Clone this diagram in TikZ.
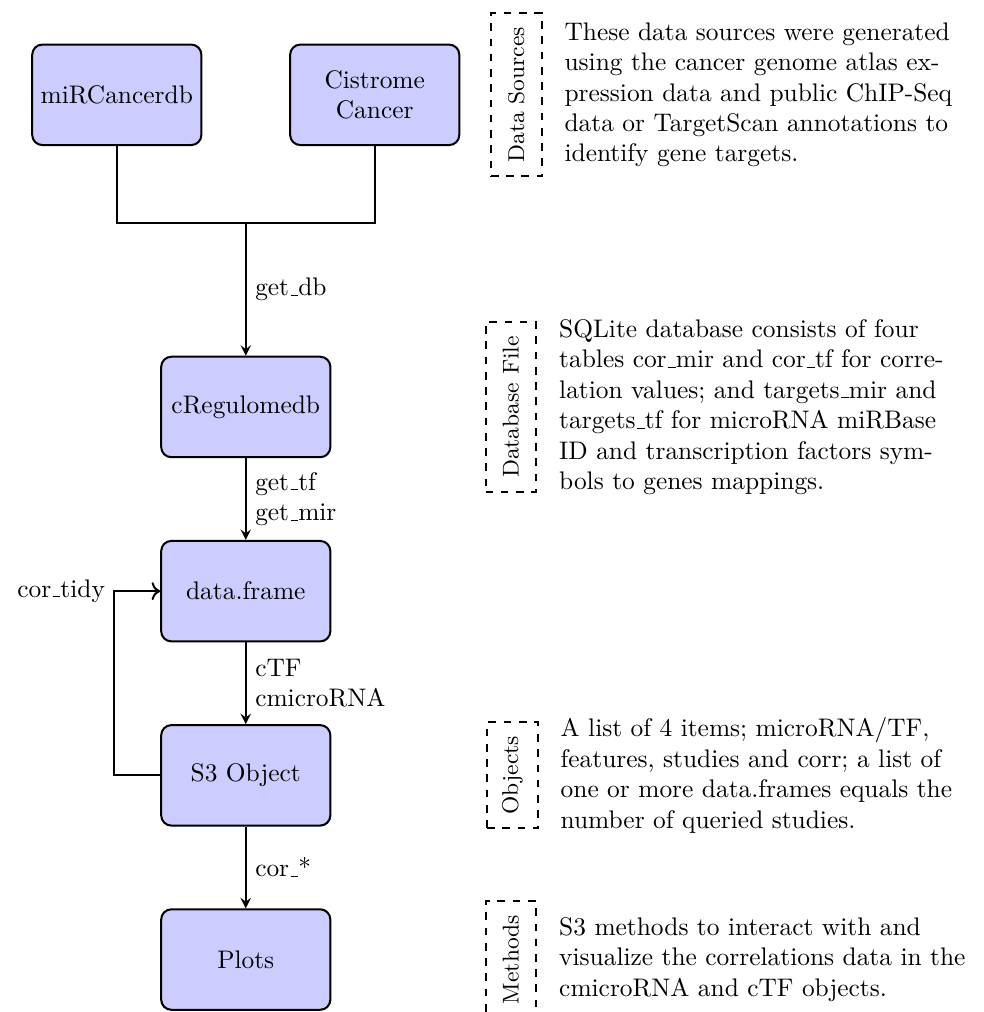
\documentclass[tikz,border=0pt]{standalone}
\usetikzlibrary{arrows.meta, positioning}
\newcommand{\us}{\leavevmode\kern.06em\vbox{\hrule width.3em}}

\begin{document}
\begin{tikzpicture}[
    node distance=1.13cm and 1.2cm,
    box/.style={rectangle, draw, thick, rounded corners, minimum width=2.34cm, minimum height=1.39cm,
                align=center, fill=blue!20},
    tagbox/.style={rectangle, draw, thick, dashed, minimum width=0.7cm, inner ysep=5.4pt, font=\small},
    note/.style={text width=5.9cm, align=left},
    arr/.style={-stealth, thick}
]
\useasboundingbox (-3.40,-8.37) rectangle (10.21,5.63);

\node[box] (creg) {cRegulomedb};
\coordinate[above=1.83cm of creg.north] (join);
\node[box, above left=1.07cm and 0.6cm of join] (mir) {miRCancerdb};
\node[box, above right=1.07cm and 0.6cm of join] (cis) {Cistrome\\Cancer};
\node[box, below=of creg] (df) {data.frame};
\node[box, below=of df] (s3) {S3 Object};
\node[box, below=of s3] (plots) {Plots};

\coordinate[left=0.64cm of df.west] (loop);
\node[left] at (loop) (tidy) {cor\us tidy};

\node[tagbox, right=0.41cm of cis] (srctag) {\rotatebox{90}{Data Sources}};
\node[note, right=0.18cm of srctag] (srcnote) {These data sources were generated\\ using the cancer genome atlas ex-\\pression data and public ChIP-Seq\\ data or TargetScan annotations to\\ identify gene targets.};
\node[tagbox, right=2.12cm of creg] (dbtag) {\rotatebox{90}{Database File}};
\node[note, right=0.18cm of dbtag] (dbnote) {SQLite database consists of four\\ tables cor\us mir and cor\us tf for corre-\\lation values; and targets\us mir and\\ targets\us tf for microRNA miRBase\\ ID and transcription factors sym-\\bols to genes mappings.};
\node[tagbox, right=2.14cm of s3] (objtag) {\rotatebox{90}{Objects}};
\node[note, right=0.18cm of objtag] (objnote) {A list of 4 items; microRNA/TF,\\ features, studies and corr; a list of\\ one or more data.frames equals the\\ number of queried studies.};
\node[tagbox, right=2.12cm of plots] (mtag) {\rotatebox{90}{Methods}};
\node[note, right=0.18cm of mtag] (mnote) {S3 methods to interact with and\\ visualize the correlations data in the\\ cmicroRNA and cTF objects.};

\draw[thick] (mir.south) |- (join);
\draw[thick] (cis.south) |- (join);
\draw[arr] (join) -- node[right] {get\us db} (creg);
\draw[arr] (creg) -- node[right, align=left] {get\us tf\\get\us mir} (df);
\draw[arr] (df) -- node[right, align=left] {cTF\\cmicroRNA} (s3);
\draw[arr] (s3) -- node[right] {cor\us *} (plots);
\draw[thick, ->] (s3.west) -| (loop) -- (df.west);
\end{tikzpicture}
\end{document}
